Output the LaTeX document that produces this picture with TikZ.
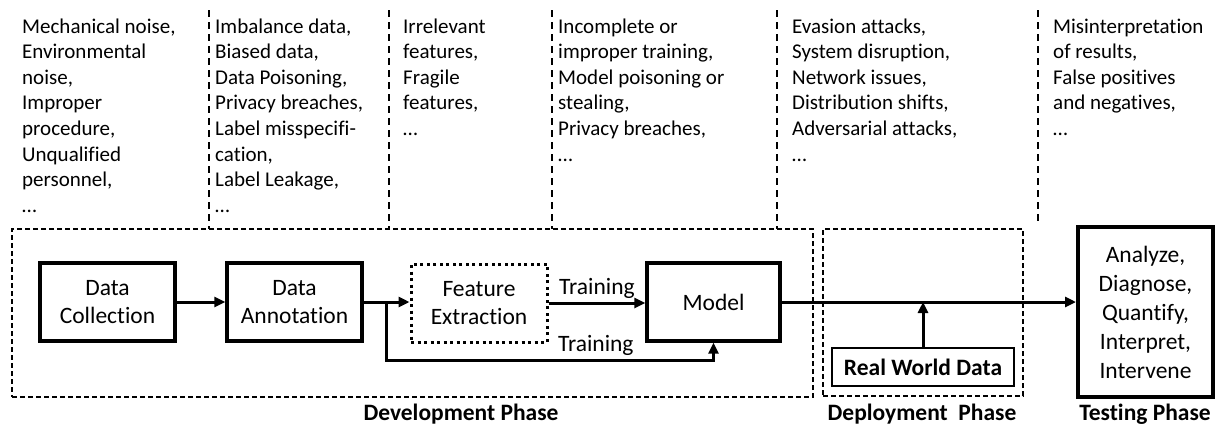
\documentclass[tikz,border=0pt]{standalone}
\usepackage{fontspec}
\setmainfont[Ligatures=NoCommon]{Carlito}
\usetikzlibrary{arrows.meta,calc}

\begin{document}
\begin{tikzpicture}[x=1pt,y=-1pt,
    >={Triangle[length=11pt,width=10pt]},
    issue/.style={anchor=north west,inner sep=0pt,align=left,font=\fontsize{21}{25.6}\selectfont},
    sep/.style={line width=2pt,dash pattern=on 7pt off 5pt},
    stage/.style={draw,line width=3.3pt,minimum width=135pt,minimum height=78pt,align=center,font=\fontsize{23.5}{28}\selectfont},
    phase/.style={draw,line width=1.8pt,dash pattern=on 5pt off 3pt},
    phaselabel/.style={anchor=base,font=\fontsize{23.5}{26}\selectfont\bfseries},
    note/.style={font=\fontsize{23.5}{26}\selectfont},
    flow/.style={->,line width=3pt}]
    \useasboundingbox (0,0) rectangle (1229,426);
    \node[issue] (noise) at (22,15) {\strut Mechanical noise,\\Environmental\\noise,\\Improper\\procedure,\\Unqualified\\personnel,\\…};
    \node[issue] (labels) at (215,15) {\strut Imbalance data,\\Biased data,\\Data Poisoning,\\Privacy breaches,\\Label misspecifi-\\cation,\\Label Leakage,\\…};
    \node[issue] (features) at (403,15) {\strut Irrelevant\\features,\\Fragile\\features,\\…};
    \node[issue] (training) at (558,15) {\strut Incomplete or\\improper training,\\Model poisoning or\\stealing,\\Privacy breaches,\\…};
    \node[issue] (attacks) at (792,15) {\strut Evasion attacks,\\System disruption,\\Network issues,\\Distribution shifts,\\Adversarial attacks,\\…};
    \node[issue] (results) at (1053,15) {\strut Misinterpretation\\of results,\\False positives\\and negatives,\\…};
    \foreach \x in {209,389,552,777}
        \draw[sep] (\x,10) -- (\x,229);
    \draw[sep] (1038,10) -- (1038,223);
    \node[phase,minimum width=801pt,minimum height=168pt] (dev) at (412.5,313) {};
    \node[phase,minimum width=200pt,minimum height=167pt] (deploy) at (923,312.5) {};
    \node[stage] (collect) at (107.5,302) {Data\\Collection};
    \node[stage] (annot) at (294.5,302) {Data\\Annotation};
    \node[stage,line width=3pt,dash pattern=on 3pt off 3.5pt,minimum width=136pt] (feat) at (479,303) {Feature\\Extraction};
    \node[stage,minimum width=133pt] (model) at (713.5,302) {Model};
    \node[stage,line width=4pt,minimum height=170pt,font=\fontsize{23.5}{29}\selectfont] (test) at (1145.5,312) {Analyze,\\Diagnose,\\Quantify,\\Interpret,\\Intervene};
    \node[draw,line width=2.5pt,minimum width=182pt,minimum height=38pt,font=\fontsize{23.5}{26}\selectfont\bfseries] (rwd) at (923,367) {Real World Data};
    \node[phaselabel] (devlabel) at (461,420) {Development Phase};
    \node[phaselabel] (deploylabel) at (922,420) {Deployment\ \ Phase};
    \node[phaselabel] (testlabel) at (1145,420) {Testing Phase};
    \draw[flow] (collect) -- (annot);
    \draw[flow] (annot.east) -- (annot.east -| feat.west);
    \coordinate (split) at ($(annot.east)!0.5!(annot.east -| feat.west)$);
    \draw[flow] (feat.east) -- (feat.east -| model.west) node[note,midway,above] {Training};
    \draw[flow] (split) -- ++(0,58) -| node[note,pos=0.32,above] {Training} (model.south);
    \draw[flow] (model.east) -- (model.east -| test.west);
    \draw[flow] (rwd.north) -- (rwd.north |- model.east);
\end{tikzpicture}
\end{document}
